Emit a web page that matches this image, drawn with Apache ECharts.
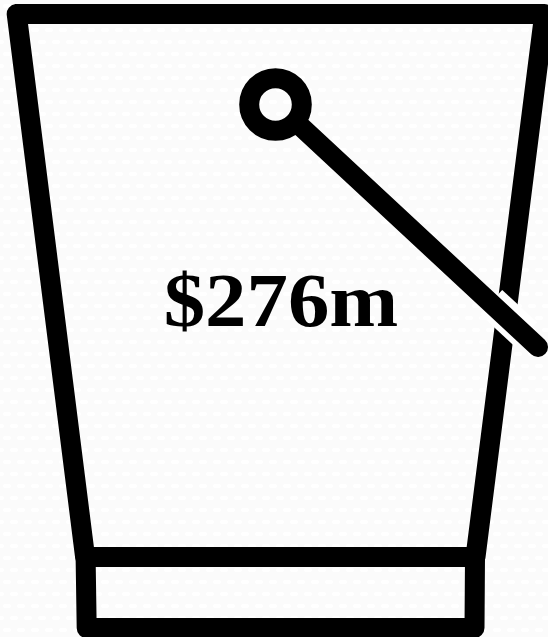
<!DOCTYPE html>
<html><head><meta charset="utf-8">
<style>html,body{margin:0;padding:0;background:#fcfcfc}#c{width:548px;height:637px}</style>
<script src="https://cdn.jsdelivr.net/npm/echarts@6/dist/echarts.min.js"></script>
</head><body><div id="c"></div>
<script>
const categories = ['Bucket'];
const values = [276];
const labels = ['$276m'];

// faint background weave of the reference
const tile = document.createElement('canvas');
tile.width = 28; tile.height = 24;
const tc = tile.getContext('2d');
tc.fillStyle = '#fbfbfb'; tc.fillRect(0,0,28,24);
tc.fillStyle = '#ffffff';
[[7,6],[21,6],[0,18],[14,18],[28,18]].forEach(p=>{
  tc.beginPath(); tc.ellipse(p[0],p[1],4,2.2,0,0,Math.PI*2); tc.fill();
});

const chart = echarts.init(document.getElementById('c'), null, {renderer:'canvas'});
const K = 20;
function renderBucket(params, api){
  const v = api.value(1);
  const base = api.coord([api.value(0), 0]);
  const top = api.coord([api.value(0), v]);
  const H = base[1]-top[1];
  const y0 = top[1];
  const Y = f => y0 + f*H;
  const line = {stroke:'#000', lineWidth:K, fill:null, lineCap:'round', lineJoin:'round'};
  const yA=Y(0), yB=Y(543/614), yC=Y(1);
  return {type:'group', children:[
    {type:'polyline', shape:{points:[[16.7,yA],[544.3,yA],[475.5,yB],[85.1,yB],[16.7,yA]]}, style:{...line}},
    {type:'polyline', shape:{points:[[85.6,yB],[86.7,yC],[474.5,yC],[475,yB]]}, style:{...line}},
    {type:'line', shape:{x1:491,y1:Y(288/614),x2:526,y2:Y(320.4/614)}, style:{stroke:'#ffffff',lineWidth:33,lineCap:'butt'}},
    {type:'line', shape:{x1:296,y1:Y(108/614),x2:538,y2:Y(333/614)}, style:{...line, lineWidth:20}},
    {type:'circle', shape:{cx:275.5,cy:Y(90.5/614),r:26.3}, style:{stroke:'#000',lineWidth:20,fill:null}},
    {type:'text', x:281, y:Y(292/614), scaleX:1.09, style:{text:labels[params.dataIndex], fill:'#000',
      font:'bold 76px "Liberation Serif"', align:'center', verticalAlign:'middle'}}
  ]};
}
chart.setOption({
  animation:false,
  backgroundColor:{image:tile, repeat:'repeat'},
  grid:{left:0,right:0,top:14,bottom:9},
  xAxis:{type:'category',data:categories,show:false},
  yAxis:{type:'value',min:0,max:276,show:false},
  series:[{type:'custom',renderItem:renderBucket,clip:false,
    data:categories.map((c,i)=>[i,values[i]])}]
});
</script></body></html>
